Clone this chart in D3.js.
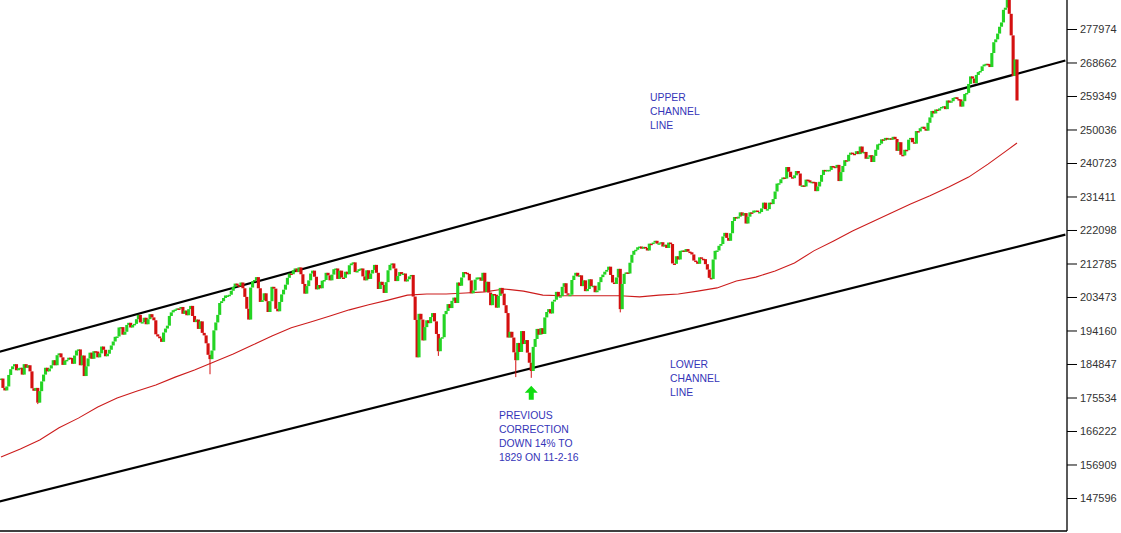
<!DOCTYPE html>
<html><head><meta charset="utf-8">
<script src="https://cdn.jsdelivr.net/npm/d3@7"></script>
<style>
html,body{margin:0;padding:0;background:#fff;}
svg{display:block;}
</style></head><body>
<svg id="c" width="1121" height="533"></svg>
<script>
// S&P 500 closes, sampled roughly every second trading day, Dec 2013 - Feb 2018
const closes = [
// Dec 2013
1808,1782,1775,1786,1818,1834,1842,1848,
// 2014
1831,1837,1838,1819,1848,1838,1845,1828,1781,1774,1782,
1741,1773,1800,1819,1838,1828,1836,1845,1859,
1845,1873,1878,1867,1846,1858,1860,1866,1865,1849,1872,
1886,1889,1845,1872,1815,1842,1864,1880,1863,1884,
1883,1867,1878,1897,1888,1870,1877,1888,1900,1911,1924,
1925,1950,1951,1930,1938,1957,1963,1950,1957,1960,
1973,1985,1964,1965,1977,1959,1973,1987,1978,1970,1931,
1925,1920,1910,1936,1947,1955,1982,1992,1998,2000,2003,
2002,2007,1988,1997,1984,2001,2010,1982,1965,1972,
1946,1967,1935,1928,1906,1874,1862,1886,1942,1964,1985,2018,
2023,2032,2039,2039,2041,2052,2063,2072,2067,
2066,2075,2059,2035,2002,1972,2061,2078,2082,2090,2059,
// 2015
2021,2026,2045,2023,1993,2023,2063,2058,2002,1995,
2021,2042,2055,2069,2088,2100,2098,2109,2114,2104,
2117,2098,2071,2044,2065,2081,2100,2108,2091,2056,2068,
2059,2080,2082,2102,2095,2081,2097,2112,2114,2085,
2108,2089,2088,2105,2098,2123,2128,2131,2104,2107,
2112,2114,2092,2081,2109,2085,2100,2110,2124,2102,2057,
2077,2068,2046,2076,2109,2124,2128,2114,2079,2093,2104,
2098,2100,2078,2084,2092,2096,2036,1971,1867,1988,1972,
1914,1951,1970,1962,1979,1990,1967,1932,1884,1920,
1923,1987,1996,2015,2004,2024,2033,2018,2075,2066,2089,
2104,2102,2099,2081,2045,2053,2083,2089,2089,2080,
2102,2049,2077,2047,2012,2043,2041,2005,2038,2060,2044,
// 2016
2012,1990,1922,1938,1922,1881,1859,1907,1882,1940,
1904,1915,1880,1852,1829,1896,1918,1946,1930,1948,
1932,1978,1993,2001,1989,2022,2027,2049,2036,2037,2063,
2073,2045,2041,2041,2082,2094,2102,2092,2095,2065,
2081,2051,2057,2084,2065,2066,2048,2053,2076,2090,2097,
2105,2110,2119,2096,2075,2071,2089,2113,2001,2071,2099,
2103,2100,2130,2152,2163,2166,2173,2175,2169,2174,
2171,2164,2183,2182,2186,2191,2183,2184,2187,2175,2180,
2171,2186,2182,2128,2127,2148,2139,2163,2164,2160,2168,
2161,2159,2153,2136,2133,2127,2145,2141,2140,2126,
2111,2088,2085,2139,2163,2164,2177,2182,2203,2213,2199,
2191,2212,2246,2257,2253,2258,2270,2261,2268,2239,
// 2017
2258,2270,2269,2275,2275,2271,2271,2281,2297,2279,
2279,2297,2293,2307,2328,2350,2351,2362,2367,2364,
2396,2383,2368,2365,2373,2385,2378,2344,2345,2342,2361,
2359,2353,2355,2354,2329,2342,2355,2374,2388,2384,
2388,2388,2399,2397,2394,2402,2357,2382,2399,2415,2412,
2430,2436,2433,2432,2440,2432,2453,2436,2438,2419,2423,
2429,2410,2427,2444,2459,2461,2473,2470,2477,2472,
2476,2472,2480,2474,2441,2465,2430,2428,2444,2443,2472,
2477,2465,2461,2496,2495,2504,2508,2502,2497,2519,
2534,2552,2545,2556,2553,2559,2563,2565,2557,2581,2575,
2579,2588,2590,2585,2584,2564,2579,2599,2602,2627,2648,
2642,2629,2652,2660,2663,2676,2681,2683,2682,2674,
// 2018
2713,2743,2751,2767,2786,2798,2833,2839,2873,2822,
2762,2649,2695,2581
];

// notable intraday lows (sample index, low)
const wickLows = [[19,1737],[108,1820],[128,1972],[226,1871],[266,1812],[274,1810],[320,1992],[367,2084]];

// moving average (red line)
const maIndex = [0,10,20,30,40,50,60,70,80,90,100,110,120,130,140,150,160,170,180,190,200,210,220,230,240,250,260,270,280,290,300,310,320,330,340,350,360,370,380,390,400,410,420,430,440,450,460,470,480,490,500,510,520,525];
const maValues = [1590,1612,1637,1671,1698,1729,1754,1773,1790,1812,1832,1854,1876,1901,1926,1949,1965,1982,1999,2013,2026,2040,2043,2043,2046,2049,2057,2051,2040,2038,2038,2038,2038,2035,2040,2043,2051,2060,2079,2090,2107,2129,2163,2190,2218,2243,2268,2293,2316,2341,2368,2404,2443,2463];

// channel lines: [sample index, value]
const upperChannel = [[-1,1882],[550,2692]];
const lowerChannel = [[-1,1466],[550,2208]];

const tickLabels = [277974,268662,259349,250036,240723,231411,222098,212785,203473,194160,184847,175534,166222,156909,147596];

const notes = [
  {lines:["UPPER","CHANNEL","LINE"], x:650, y:101},
  {lines:["LOWER","CHANNEL","LINE"], x:670, y:368},
  {lines:["PREVIOUS","CORRECTION","DOWN 14% TO","1829 ON 11-2-16"], x:499, y:419}
];

const plotRight = 1067, plotBottom = 531;
const svg = d3.select("#c");

const x = d3.scaleLinear().domain([0, closes.length - 1]).range([1, 1017]);
const y = d3.scaleLinear().domain([tickLabels[tickLabels.length-1]/100, tickLabels[0]/100]).range([498, 29]);

svg.append("defs").append("clipPath").attr("id","clip")
  .append("rect").attr("x",0).attr("y",0).attr("width",plotRight).attr("height",plotBottom);

const g = svg.append("g").attr("clip-path","url(#clip)");

// channel lines
const chLine = d3.line().x(d => x(d[0])).y(d => y(d[1]));
[upperChannel, lowerChannel].forEach(c => {
  g.append("path").attr("d", chLine(c)).attr("stroke","#000").attr("stroke-width",2.2).attr("fill","none");
});

// moving average
g.append("path")
  .attr("d", d3.line().x((d,i) => x(maIndex[i])).y(d => y(d))(maValues))
  .attr("stroke","#cc1c1c").attr("stroke-width",1.1).attr("fill","none");

// candles
const up = "#24d424", down = "#d41010";
const bw = 3.1;
const candles = closes.map((c,i) => ({i, o: i>0 ? closes[i-1] : c, c}));
const wickMap = new Map(wickLows);
g.selectAll("line.wick").data(candles.filter(d => wickMap.has(d.i))).join("line")
  .attr("class","wick")
  .attr("x1", d => x(d.i)).attr("x2", d => x(d.i))
  .attr("y1", d => y(Math.min(d.o,d.c))).attr("y2", d => y(wickMap.get(d.i)))
  .attr("stroke", down).attr("stroke-width",1);
g.selectAll("rect.candle").data(candles).join("rect")
  .attr("class","candle")
  .attr("x", d => x(d.i) - bw/2)
  .attr("width", bw)
  .attr("y", d => y(Math.max(d.o,d.c)))
  .attr("height", d => Math.max(1.5, y(Math.min(d.o,d.c)) - y(Math.max(d.o,d.c))))
  .attr("fill", d => d.c >= d.o ? up : down);

// arrow under the 2016 low
const lowIdx = closes.indexOf(1829);
const ax = x(lowIdx), at = y(wickMap.get(lowIdx)) + 8;
svg.append("path")
  .attr("d", `M${ax-6.5},${at+7} L${ax},${at} L${ax+6.5},${at+7} L${ax+2.5},${at+7} L${ax+2.5},${at+14} L${ax-2.5},${at+14} L${ax-2.5},${at+7} Z`)
  .attr("fill","#11dd11");

// notes
notes.forEach(n => {
  const t = svg.append("text").attr("x", n.x).attr("y", n.y)
    .attr("font-family","'Liberation Sans', Arial, sans-serif").attr("font-size","10.4px").attr("fill","#3535b8");
  n.lines.forEach((l,k) => t.append("tspan").attr("x", n.x).attr("y", n.y + k*14).text(l));
});

// frame
svg.append("line").attr("x1",plotRight).attr("x2",plotRight).attr("y1",0).attr("y2",plotBottom).attr("stroke","#000").attr("stroke-width",1.3);
svg.append("line").attr("x1",0).attr("x2",plotRight).attr("y1",plotBottom).attr("y2",plotBottom).attr("stroke","#000").attr("stroke-width",1.3);

// axis
const majorVals = tickLabels.map(v => v/100);
const step = majorVals[0] - majorVals[1];
const minorVals = [];
for (let k = -1; k < majorVals.length; k++) minorVals.push(majorVals[majorVals.length-1] + (k + 0.5) * step);
const axisG = svg.append("g").attr("transform",`translate(${plotRight},0)`);
axisG.call(d3.axisRight(y).tickValues(minorVals).tickSize(6).tickFormat(""));
axisG.call(d3.axisRight(y).tickValues(majorVals).tickSize(10).tickPadding(3).tickFormat((d,i) => tickLabels[i]));
axisG.selectAll(".domain").remove();
axisG.selectAll("line").attr("stroke","#000");
axisG.selectAll("text").attr("font-family","'Liberation Sans', Arial, sans-serif").attr("font-size","11px").attr("fill","#333");
</script>
</body></html>
